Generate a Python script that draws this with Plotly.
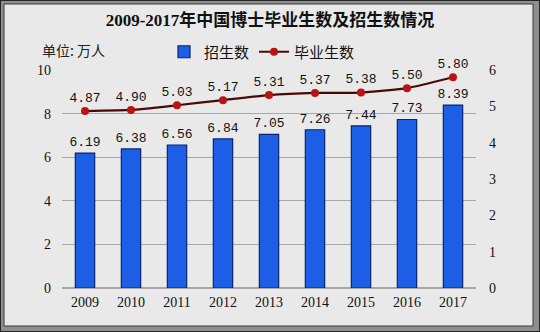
import plotly.graph_objects as go

years = ["2009", "2010", "2011", "2012", "2013", "2014", "2015", "2016", "2017"]
enrolled = [6.19, 6.38, 6.56, 6.84, 7.05, 7.26, 7.44, 7.73, 8.39]
graduates = [4.87, 4.90, 5.03, 5.17, 5.31, 5.37, 5.38, 5.50, 5.80]

W, H = 540, 332
L, R, T, B = 62, 64, 70, 44
PW, PH = W - L - R, H - T - B


def px(x):
    return (x - L) / PW


def py(y):
    return (H - B - y) / PH


fig = go.Figure()

fig.add_trace(go.Bar(
    x=years, y=enrolled, name="招生数",
    marker=dict(color="#1c5ee6", line=dict(color="#0a2470", width=1.2)),
    width=0.42,
    text=[f"{v:.2f}" for v in enrolled], textposition="outside",
    constraintext="none",
    textfont=dict(family="Liberation Mono", size=13, color="#111"),
    cliponaxis=False,
    yaxis="y",
))

fig.add_trace(go.Scatter(
    x=years, y=graduates, name="毕业生数",
    mode="lines+markers+text",
    line=dict(color="#4a0808", width=2.2, shape="spline", smoothing=0.4),
    marker=dict(color="#b81414", size=8),
    text=[f"{v:.2f}" for v in graduates], textposition="top center",
    textfont=dict(family="Liberation Mono", size=13, color="#111"),
    cliponaxis=False,
    yaxis="y2",
))

shapes = [
    dict(type="rect", xref="paper", yref="paper", layer="below",
         x0=px(1), x1=px(W - 1), y0=py(1), y1=py(H - 1),
         fillcolor="#8e8e8e", line=dict(width=0)),
    dict(type="rect", xref="paper", yref="paper", layer="below",
         x0=px(4), x1=px(W - 7), y0=py(4), y1=py(H - 6),
         fillcolor="#e9e9e9", line=dict(color="#3a3a3a", width=1)),
]

fig.update_layout(
    width=W, height=H,
    margin=dict(l=L, r=R, t=T, b=B),
    paper_bgcolor="#262626",
    plot_bgcolor="rgba(0,0,0,0)",
    shapes=shapes,
    title=dict(text="<b>2009-2017年中国博士毕业生数及招生数情况</b>",
               x=0.5, xanchor="center", y=1 - 20 / H, yanchor="middle",
               font=dict(family="Liberation Serif, Noto Sans CJK SC", size=17, color="#111")),
    annotations=[dict(text="单位: 万人", xref="paper", yref="paper",
                      x=px(40), y=py(50), xanchor="left", yanchor="middle",
                      showarrow=False,
                      font=dict(family="Noto Sans CJK SC", size=14, color="#222"))],
    legend=dict(orientation="h", x=px(262), y=py(52), xanchor="center", yanchor="middle",
                bgcolor="rgba(0,0,0,0)",
                font=dict(family="Noto Sans CJK SC", size=15, color="#111"),
                itemwidth=30, tracegroupgap=0),
    showlegend=True,
    xaxis=dict(type="category", range=[-0.5, 8.5], showgrid=False, showline=False,
               ticks="", tickfont=dict(family="Liberation Serif", size=14, color="#111"),
               ticklabelstandoff=4),
    yaxis=dict(range=[0, 10], dtick=2, showgrid=True, gridcolor="#a8a8a8", gridwidth=1,
               zeroline=True, zerolinecolor="#a8a8a8", showline=False, ticks="",
               tickfont=dict(family="Liberation Serif", size=14, color="#111"),
               ticklabelstandoff=10),
    yaxis2=dict(range=[0, 6], dtick=1, overlaying="y", side="right", showgrid=False,
                zeroline=False, showline=False, ticks="",
                tickfont=dict(family="Liberation Serif", size=14, color="#111"),
                ticklabelstandoff=12),
    bargap=0.5,
)

fig.write_html("out.html")
